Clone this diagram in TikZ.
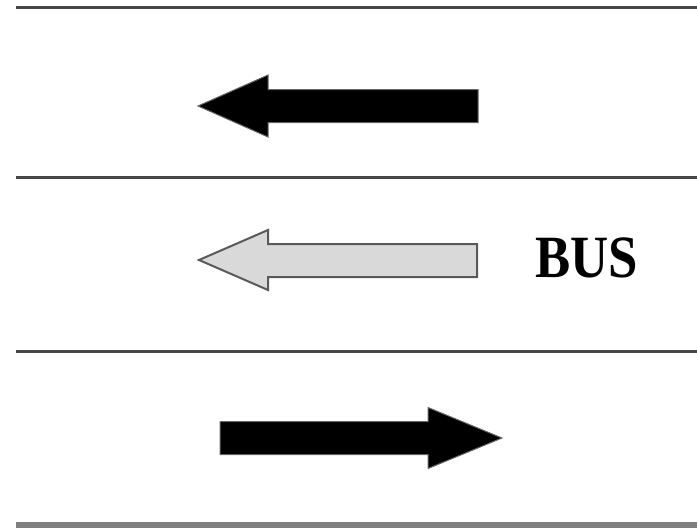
\documentclass[tikz,border=0pt]{standalone}
\usepackage{fontspec}
\setmainfont{Liberation Serif}
\tikzset{
  laneline/.style={draw=black!72, line width=3pt},
  blackarrow/.style={fill=black, draw=black!60, line width=1pt, line join=miter},
  busarrow/.style={fill=black!15, draw=black!65, line width=2pt, line join=miter},
  buslabel/.style={font=\bfseries\fontsize{60}{60}\selectfont, inner sep=0pt, text=black}
}
\begin{document}
\begin{tikzpicture}[x=1pt,y=-1pt]
\useasboundingbox (0,0) rectangle (697,528);
% lane lines
\draw[laneline] (16,7) -- (697,7);
\draw[laneline] (16,177.5) -- (697,177.5);
\draw[laneline] (16,351.5) -- (697,351.5);
\draw[draw=black!50, line width=6pt] (16,525) -- (697,525);
% top arrow (left)
\draw[blackarrow] (198,106) -- (268,75) -- (268,89.5) -- (478,89.5) -- (478,122.5) -- (268,122.5) -- (268,137) -- cycle;
% middle bus arrow (left)
\draw[busarrow] (199,260) -- (268,230) -- (268,244) -- (477,244) -- (477,277) -- (268,277) -- (268,290) -- cycle;
\node[buslabel, anchor=base] (bus) at (587,277) {\scalebox{0.88}[1]{BUS}};
% bottom arrow (right)
\draw[blackarrow] (502,438) -- (428,407.5) -- (428,421.5) -- (220,421.5) -- (220,454.5) -- (428,454.5) -- (428,468.5) -- cycle;
\end{tikzpicture}
\end{document}
